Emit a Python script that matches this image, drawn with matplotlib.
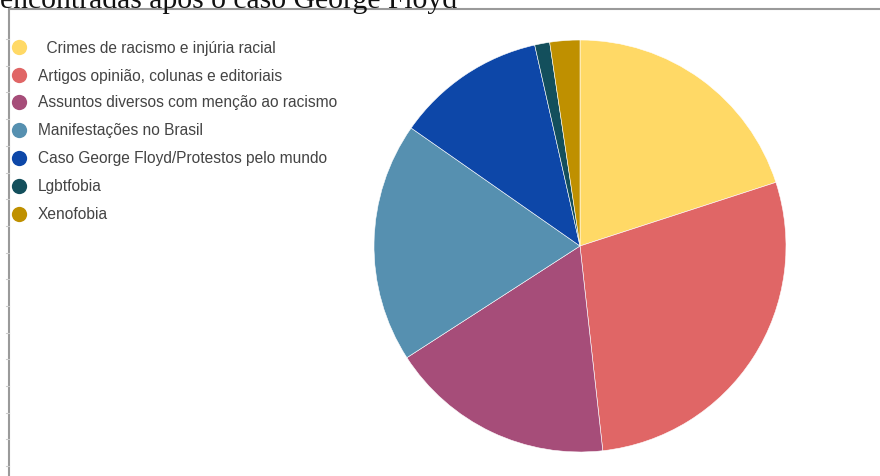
import matplotlib.pyplot as plt
from matplotlib.lines import Line2D

# Categories of news items found after the George Floyd case
categories = [
    "  Crimes de racismo e injúria racial",
    "Artigos opinião, colunas e editoriais",
    "Assuntos diversos com menção ao racismo",
    "Manifestações no Brasil",
    "Caso George Floyd/Protestos pelo mundo",
    "Lgbtfobia",
    "Xenofobia",
]
counts = [17, 24, 15, 16, 10, 1, 2]
colors = ["#FFD966", "#E06666", "#A64D79", "#5690B0", "#0D47A8", "#134F5C", "#BF9000"]

W, H = 880, 477
fig = plt.figure(figsize=(W / 100, H / 100), dpi=100)

# clipped title from the document above the chart (cut off in the original too)
fig.text(0.0, 1 - 8 / H, "encontradas após o caso George Floyd",
         family="Liberation Serif", fontsize=21.3, color="#111111", va="baseline", ha="left")

# frame lines of the embedded chart box
fig.add_artist(Line2D([9 / W, 9 / W], [0, 1 - 10 / H], transform=fig.transFigure,
                      color="#9a9a9a", lw=1.5))
fig.add_artist(Line2D([9 / W, 1], [1 - 10 / H, 1 - 10 / H], transform=fig.transFigure,
                      color="#9a9a9a", lw=1.5))
# faint tick marks on the left edge
y = 40.0
while y < H:
    fig.add_artist(Line2D([6 / W, 9 / W], [1 - y / H, 1 - y / H], transform=fig.transFigure,
                          color="#cccccc", lw=0.8))
    y += 26.7

# pie
cx, cy, r = 580, 247, 206
ax = fig.add_axes([(cx - r) / W, 1 - (cy + r) / H, 2 * r / W, 2 * r / H])
ax.pie(counts, colors=colors, startangle=90, counterclock=False,
       wedgeprops=dict(linewidth=0.4, edgecolor="white"))
ax.set_xlim(-1, 1)
ax.set_ylim(-1, 1)
ax.set_aspect("equal")
ax.axis("off")

# legend, drawn by hand
row_y = [48, 76, 103, 131, 159, 187, 215]
for label, col, yy in zip(categories, colors, row_y):
    fig.add_artist(Line2D([19 / W], [1 - yy / H], transform=fig.transFigure,
                          marker="o", markersize=11, color=col, markeredgewidth=0, linestyle=""))
    fig.text(38 / W, 1 - yy / H, label, fontsize=11.2, family="Liberation Sans",
             color="#444444", va="center", ha="left")

fig.savefig("out.png", dpi=100)
